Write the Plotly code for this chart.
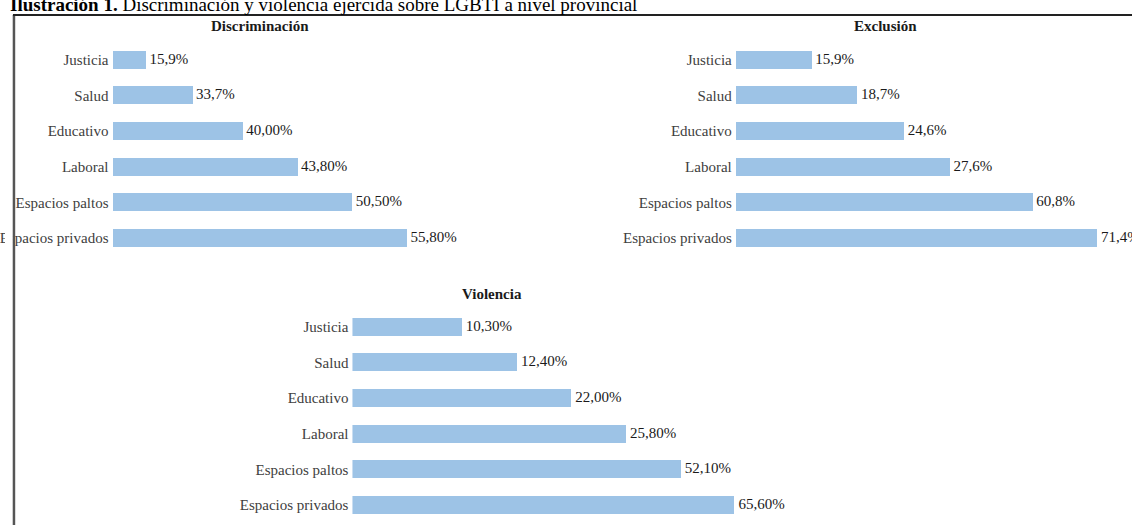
import plotly.graph_objects as go

W, H = 1132, 525

categories = ["Justicia", "Salud", "Educativo", "Laboral", "Espacios paltos", "Espacios privados"]

# Bar lengths as drawn in the picture (arbitrary common scale)
disc_bar = [6.7, 16.0, 26.1, 37.1, 48.1, 59.1]
excl_bar = [15.2, 24.4, 33.8, 43.0, 59.6, 72.6]
viol_bar = [22.0, 33.1, 44.0, 55.0, 66.0, 76.8]

# Printed labels
disc_labels = ["15,9%", "33,7%", "40,00%", "43,80%", "50,50%", "55,80%"]
excl_labels = ["15,9%", "18,7%", "24,6%", "27,6%", "60,8%", "71,4%"]
viol_labels = ["10,30%", "12,40%", "22,00%", "25,80%", "52,10%", "65,60%"]

panel_titles = ["Discriminación", "Exclusión", "Violencia"]
main_title = "<b>Ilustración 1.</b> Discriminación y violencia ejercida sobre LGBTI a nivel provincial"

BAR_COLOR = "#9DC3E6"
SERIF = "Liberation Serif, Times New Roman, serif"


def px(x):
    return x / W


def py(y):
    return 1 - y / H


fig = go.Figure()

panels = [
    (disc_bar, disc_labels, "x", "y"),
    (excl_bar, excl_labels, "x2", "y2"),
    (viol_bar, viol_labels, "x3", "y3"),
]
for vals, labs, xa, ya in panels:
    fig.add_trace(go.Bar(
        x=vals, y=categories, orientation="h", xaxis=xa, yaxis=ya,
        marker=dict(color=BAR_COLOR, line=dict(width=0)), width=0.505,
        hoverinfo="skip", showlegend=False,
    ))
    fig.add_trace(go.Scatter(
        x=vals, y=categories, mode="text", text=labs, texttemplate=" %{text}",
        textposition="middle right",
        textfont=dict(family=SERIF, size=15, color="#1a1a1a"),
        xaxis=xa, yaxis=ya, cliponaxis=False, hoverinfo="skip", showlegend=False,
    ))

yax_common = dict(
    type="category", categoryorder="array", categoryarray=categories,
    range=[5.5, -0.5], showgrid=False, zeroline=False, showline=False,
    ticks="", ticklabelstandoff=3,
    tickfont=dict(family=SERIF, size=15, color="#404040"),
)
xax_common = dict(visible=False, showgrid=False, zeroline=False)

# Row geometry (pixels): Disc/Excl rows centered 60..238, Viol rows 327..505
top_y_a, bot_y_a = 60 - 17.8, 238 + 17.8
top_y_b, bot_y_b = 327 - 17.8, 505 + 17.8

fig.update_layout(
    width=W, height=H,
    margin=dict(l=0, r=0, t=0, b=0),
    paper_bgcolor="white", plot_bgcolor="rgba(0,0,0,0)",
    bargap=0,
    xaxis=dict(domain=[px(108), px(608)], range=[0, 100], anchor="y", **xax_common),
    yaxis=dict(domain=[py(bot_y_a), py(top_y_a)], anchor="x", **yax_common),
    xaxis2=dict(domain=[px(734), 1.0], range=[0, (W - 734) / 5], anchor="y2", **xax_common),
    yaxis2=dict(domain=[py(bot_y_a), py(top_y_a)], anchor="x2", **yax_common),
    xaxis3=dict(domain=[px(349), px(849)], range=[0, 100], anchor="y3", **xax_common),
    yaxis3=dict(domain=[py(bot_y_b), py(top_y_b)], anchor="x3", **yax_common),
)

# Panel titles
for title, cx, cy in [(panel_titles[0], 256, 26), (panel_titles[1], 884, 26), (panel_titles[2], 489, 294)]:
    fig.add_annotation(
        x=px(cx), y=py(cy), xref="paper", yref="paper", showarrow=False,
        text="<b>%s</b>" % title, xanchor="center", yanchor="middle",
        font=dict(family=SERIF, size=15, color="#1a1a1a"),
    )

# Document caption (partially cut at the top, as in the source)
fig.add_annotation(
    x=px(3), y=py(5), xref="paper", yref="paper", showarrow=False,
    text=main_title, xanchor="left", yanchor="middle",
    font=dict(family=SERIF, size=19, color="#000000"),
)

# White mask on the left of the frame and the frame lines
fig.add_shape(type="rect", xref="paper", yref="paper", x0=0, x1=px(8), y0=0, y1=py(15),
              fillcolor="white", line=dict(width=0), layer="above")
fig.add_shape(type="line", xref="paper", yref="paper", x0=px(9), x1=px(9), y0=0, y1=py(15),
              line=dict(color="#555555", width=2.5), layer="above")
fig.add_shape(type="line", xref="paper", yref="paper", x0=px(8), x1=1.0, y0=py(15), y1=py(15),
              line=dict(color="#222222", width=2), layer="above")

fig.write_html("out.html", config={"displayModeBar": False},
               post_script="document.body.style.margin='0';")
